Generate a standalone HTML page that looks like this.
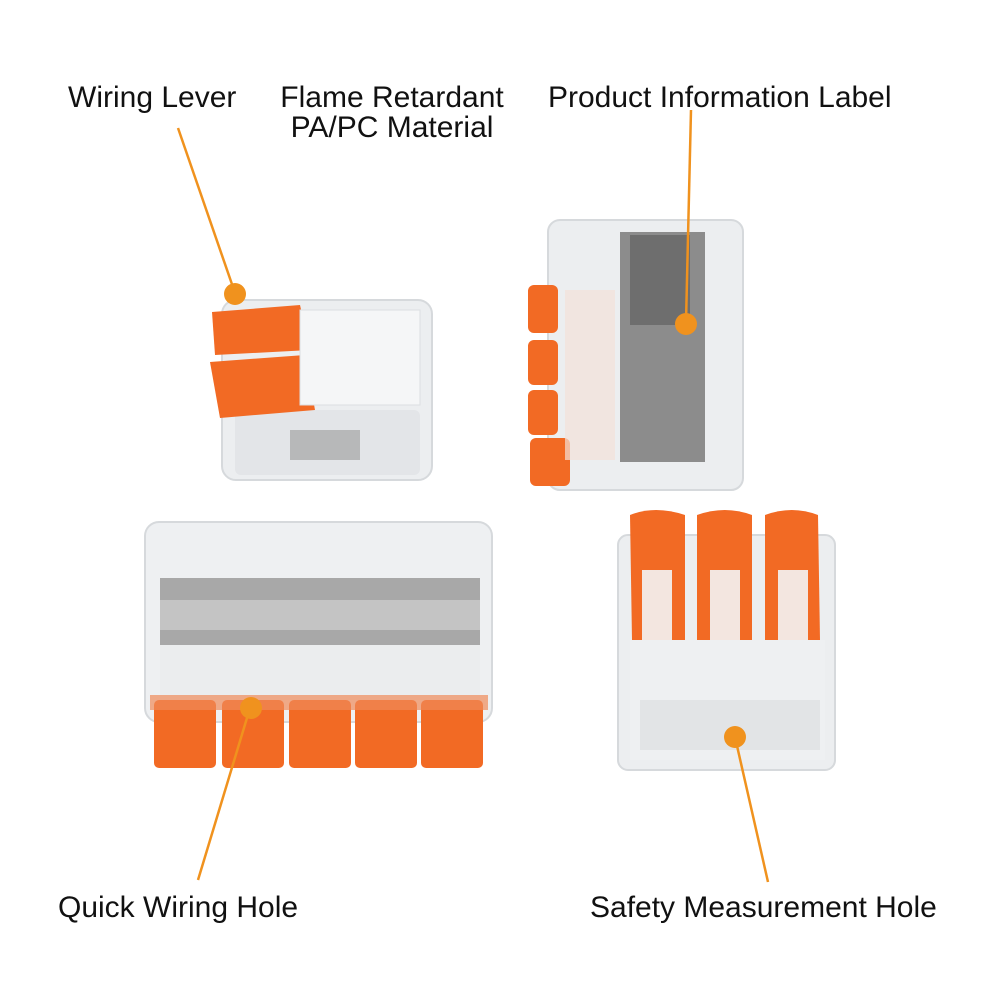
<!DOCTYPE html>
<html><head><style>
html,body{margin:0;padding:0;background:#fff;}
svg{display:block}
text{font-family:"Liberation Sans",sans-serif;font-size:30px;fill:#111}
</style></head><body>
<svg width="1000" height="1000" viewBox="0 0 1000 1000">
<rect width="1000" height="1000" fill="#fff"/>
<!-- Top-left connector -->
<rect x="222" y="300" width="210" height="180" rx="14" fill="#eceef0" stroke="#d6d9dc" stroke-width="2"/>
<rect x="235" y="410" width="185" height="65" rx="6" fill="#e3e5e8"/>
<rect x="290" y="430" width="70" height="30" fill="#9a9a9a" opacity="0.6"/>
<path d="M212 312 L300 305 L310 350 L215 355 Z" fill="#f26a24"/>
<path d="M210 362 L305 355 L315 410 L220 418 Z" fill="#f26a24"/>
<rect x="300" y="310" width="120" height="95" fill="#f5f6f7" stroke="#dcdfe2"/>
<!-- Top-right connector -->
<rect x="548" y="220" width="195" height="270" rx="12" fill="#eceef0" stroke="#d6d9dc" stroke-width="2"/>
<rect x="620" y="232" width="85" height="230" fill="#8c8c8c"/>
<rect x="630" y="235" width="60" height="90" fill="#6e6e6e"/>
<rect x="528" y="285" width="30" height="48" rx="6" fill="#f26a24"/>
<rect x="528" y="340" width="30" height="45" rx="6" fill="#f26a24"/>
<rect x="528" y="390" width="30" height="45" rx="6" fill="#f26a24"/>
<rect x="530" y="438" width="40" height="48" rx="6" fill="#f26a24"/>
<rect x="565" y="290" width="50" height="170" fill="#f3e1d8" opacity="0.7"/>
<!-- Bottom-left connector -->
<rect x="145" y="522" width="347" height="200" rx="14" fill="#eef0f2" stroke="#d6d9dc" stroke-width="2"/>
<rect x="160" y="578" width="320" height="70" fill="#a8a8a8"/>
<rect x="160" y="600" width="320" height="30" fill="#c4c4c4"/>
<rect x="160" y="645" width="320" height="55" fill="#ebedee"/>
<g fill="#f26a24">
<rect x="154" y="700" width="62" height="68" rx="5"/>
<rect x="222" y="700" width="62" height="68" rx="5"/>
<rect x="289" y="700" width="62" height="68" rx="5"/>
<rect x="355" y="700" width="62" height="68" rx="5"/>
<rect x="421" y="700" width="62" height="68" rx="5"/>
</g>
<rect x="150" y="695" width="338" height="15" fill="#f08a5a" opacity="0.7"/>
<!-- Bottom-right connector -->
<rect x="618" y="535" width="217" height="235" rx="10" fill="#eceef0" stroke="#d6d9dc" stroke-width="2"/>
<g fill="#f26a24">
<path d="M630 515 Q655 505 685 515 L685 640 L632 640 Z"/>
<path d="M697 515 Q725 505 752 515 L752 640 L697 640 Z"/>
<path d="M765 515 Q792 505 818 515 L820 640 L765 640 Z"/>
</g>
<g fill="#f3e6e0">
<rect x="642" y="570" width="30" height="70"/>
<rect x="710" y="570" width="30" height="70"/>
<rect x="778" y="570" width="30" height="70"/>
</g>
<rect x="630" y="640" width="195" height="120" fill="#eef0f2"/>
<rect x="640" y="700" width="180" height="50" fill="#e2e4e6"/>
<!-- callouts -->
<g stroke="#f0921e" stroke-width="2.5" fill="none">
<line x1="178" y1="128" x2="235" y2="293"/>
<line x1="691" y1="110" x2="686" y2="322"/>
<line x1="250" y1="708" x2="198" y2="880"/>
<line x1="735" y1="737" x2="768" y2="882"/>
</g>
<g fill="#f0921e">
<circle cx="235" cy="294" r="11"/>
<circle cx="686" cy="324" r="11"/>
<circle cx="251" cy="708" r="11"/>
<circle cx="735" cy="737" r="11"/>
</g>
<text x="68" y="107">Wiring Lever</text>
<text x="392" y="107" text-anchor="middle">Flame Retardant</text>
<text x="392" y="137" text-anchor="middle">PA/PC Material</text>
<text x="548" y="107">Product Information Label</text>
<text x="58" y="917">Quick Wiring Hole</text>
<text x="590" y="917">Safety Measurement Hole</text>
</svg>
</body></html>
